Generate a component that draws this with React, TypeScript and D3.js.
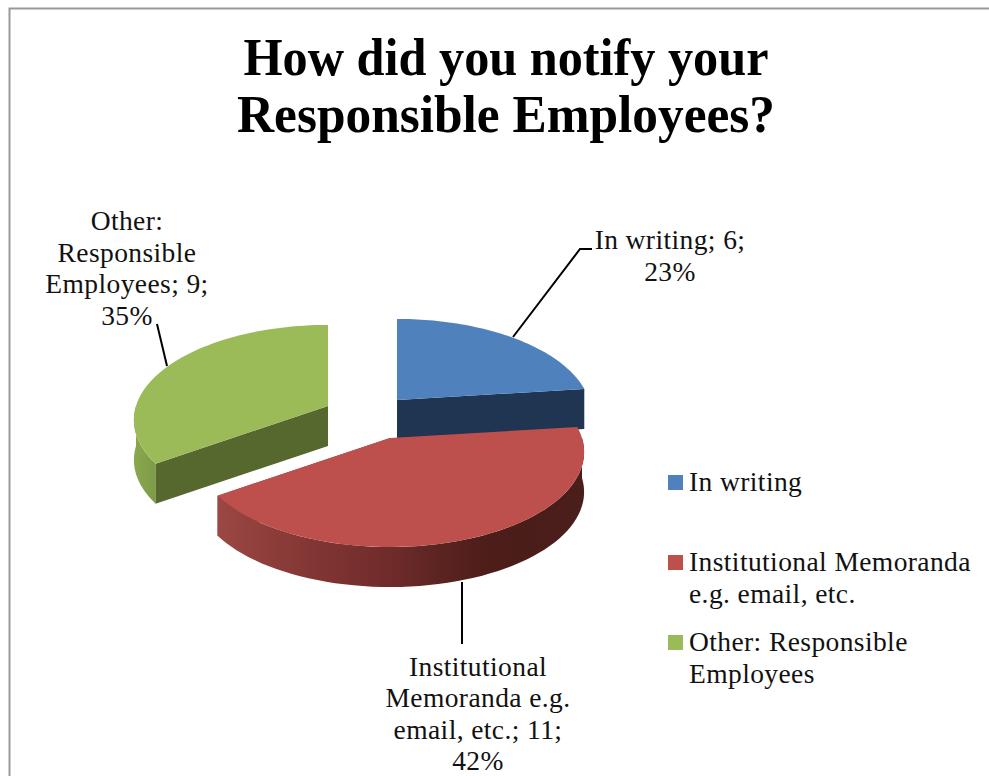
import React from "react";
import * as d3 from "d3";

const categories = ["In writing", "Institutional Memoranda e.g. email, etc.", "Other: Responsible Employees"];
const seriesValues = [6, 11, 9];
const titleLines = ["How did you notify your", "Responsible Employees?"];
const legendLines = [["In writing"], ["Institutional Memoranda", "e.g. email, etc."], ["Other: Responsible", "Employees"]];
const dataLabelLines = [
  ["In writing; 6;", "23%"],
  ["Institutional", "Memoranda e.g.", "email, etc.; 11;", "42%"],
  ["Other:", "Responsible", "Employees; 9;", "35%"],
];

const W = 989, H = 776;
const RX = 192, RY = 93, P = 0.147, DEPTH = 40;
const FONT = "'Liberation Serif', serif";
const apexes: [number, number][] = [[397, 400], [390, 438], [328, 406]];
const topColors = ["#4f81bd", "#bd4f4c", "#9bbb59"];
const wallColors = ["#1f3552", "#8e3f3c", "#56682e"];
const labelAnchors = [{ x: 670, y: 249, dy: 32 }, { x: 478, y: 676, dy: 31.4 }, { x: 127, y: 230, dy: 31.7 }];
const leaders = [
  [[513, 337], [580, 249], [592, 249]],
  [[462, 582], [462, 644]],
  [[157, 324], [167, 366]],
];
const legendRows = [475, 555, 635];

const arcs = d3.pie<number>().sort(null).startAngle(0).endAngle(2 * Math.PI)(seriesValues);

function project(i: number, t: number, z = 0, r = 1): [number, number] {
  const s = 1 / (1 + P * Math.cos(t) * r);
  const [ax, ay] = apexes[i];
  return [ax + RX * r * Math.sin(t) * s, ay - RY * r * Math.cos(t) * s + z];
}
const line = d3.line();
function samples(a: number, b: number) {
  const n = 60;
  return d3.range(n + 1).map((k) => a + ((b - a) * k) / n);
}
function topPath(i: number) {
  const a = arcs[i];
  const pts = samples(a.startAngle, a.endAngle).map((t) => project(i, t));
  return line([[apexes[i][0], apexes[i][1]], ...pts]) + "Z";
}
function wallPath(i: number, t: number) {
  const p = project(i, t), q = project(i, t, DEPTH);
  const [ax, ay] = apexes[i];
  return line([[ax, ay], p, q, [ax, ay + DEPTH]]) + "Z";
}
function rimPath(i: number, a: number, b: number) {
  const s = samples(a, b);
  return line([...s.map((t) => project(i, t)), ...s.slice().reverse().map((t) => project(i, t, DEPTH))]) + "Z";
}

const redStops = [
  [0, "#9c4845"], [0.12, "#8f3f3c"], [0.3, "#7f3432"], [0.5, "#6c2a29"], [0.62, "#5a2320"], [0.75, "#4c1d19"], [1, "#4a1e1b"],
];

export default function App() {
  const x = d3.scaleLinear().domain([0, W]).range([0, W]);
  return (
    <svg width={W} height={H} style={{ position: "fixed", left: 0, top: 0, background: "#fff" }} fontFamily={FONT}>
      <defs>
        <linearGradient id="redRim" gradientUnits="userSpaceOnUse" x1={x(216)} x2={x(582)} y1="0" y2="0">
          {redStops.map(([o, c]) => <stop key={o as number} offset={o as number} stopColor={c as string} />)}
        </linearGradient>
        <linearGradient id="greenRim" gradientUnits="userSpaceOnUse" x1={x(134)} x2={x(160)} y1="0" y2="0">
          <stop offset="0" stopColor="#8aa84e" />
          <stop offset="1" stopColor="#7b9844" />
        </linearGradient>
      </defs>
      <path d={`M9.5,${H}V8.5H${W}`} fill="none" stroke="#999" strokeWidth={2} />
      {titleLines.map((t, i) => (
        <text key={t} x={506} y={75 + i * 56.5} textAnchor="middle" fontWeight="bold" fontSize={52} fill="#000"
          textLength={i === 0 ? 525 : 538} lengthAdjust="spacingAndGlyphs">{t}</text>
      ))}

      {/* green */}
      <path d={rimPath(2, arcs[2].startAngle, (3 * Math.PI) / 2)} fill="url(#greenRim)" />
      <path d={wallPath(2, arcs[2].startAngle)} fill={wallColors[2]} />
      <path d={topPath(2)} fill={topColors[2]} />
      {/* blue */}
      <path d={wallPath(0, arcs[0].endAngle)} fill={wallColors[0]} />
      <path d={topPath(0)} fill={topColors[0]} />
      {/* red */}
      <path d={wallPath(1, arcs[1].endAngle)} fill={wallColors[1]} />
      <path d={rimPath(1, Math.PI / 2, arcs[1].endAngle)} fill="url(#redRim)" />
      <path d={topPath(1)} fill={topColors[1]} />

      {leaders.map((l, i) => (
        <path key={i} d={line(l as [number, number][]) as string} fill="none" stroke="#000" strokeWidth={2} />
      ))}
      {dataLabelLines.map((ls, i) =>
        ls.map((t, k) => (
          <text key={t} x={labelAnchors[i].x} y={labelAnchors[i].y + k * labelAnchors[i].dy} textAnchor="middle"
            fontSize={27.5} letterSpacing={0.4} fill="#111">{t}</text>
        ))
      )}
      {categories.map((c, i) => (
        <g key={c}>
          <rect x={668} y={legendRows[i]} width={15} height={15} fill={topColors[i]} />
          {legendLines[i].map((t, k) => (
            <text key={t} x={689} y={legendRows[i] + 16 + k * 31.5} fontSize={27.5} letterSpacing={0.4} fill="#111">{t}</text>
          ))}
        </g>
      ))}
    </svg>
  );
}
